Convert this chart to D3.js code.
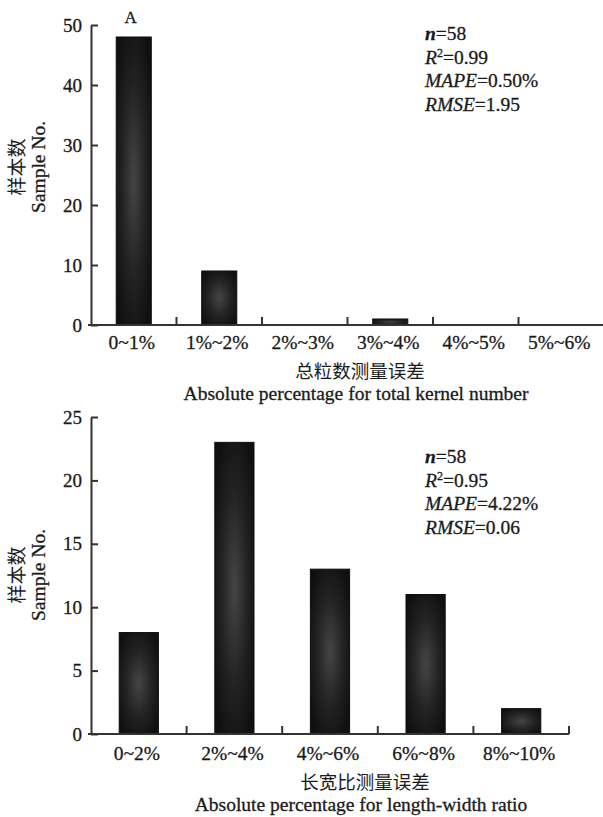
<!DOCTYPE html>
<html>
<head>
<meta charset="utf-8">
<script src="https://cdn.jsdelivr.net/npm/d3@7"></script>
<style>
  body { margin: 0; background: #fff; }
  text { font-family: "Liberation Serif", "Times New Roman", serif; fill: #1a1a1a; stroke: #1a1a1a; stroke-width: 0.3px; }
  .cjk { font-family: "Noto Sans CJK SC", sans-serif; stroke-width: 0; }
</style>
</head>
<body>
<svg id="chart" width="603" height="817"></svg>
<script>
// chart A: total kernel number
var kernelCats = ["0~1%", "1%~2%", "2%~3%", "3%~4%", "4%~5%", "5%~6%"];
var kernelCounts = [48, 9, 0, 1, 0, 0];
var kernelTicks = [0, 10, 20, 30, 40, 50];
var kernelStats = ["58", "0.99", "0.50%", "1.95"];

// chart B: length-width ratio
var ratioCats = ["0~2%", "2%~4%", "4%~6%", "6%~8%", "8%~10%"];
var ratioCounts = [8, 23, 13, 11, 2];
var ratioTicks = [0, 5, 10, 15, 20, 25];
var ratioStats = ["58", "0.95", "4.22%", "0.06"];

var svg = d3.select("#chart");

// bar fill: dark with a lighter middle
var grad = svg.append("defs").append("radialGradient")
  .attr("id", "barGrad")
  .attr("cx", "50%").attr("cy", "50%").attr("r", "60%");
grad.append("stop").attr("offset", "0%").attr("stop-color", "#454545");
grad.append("stop").attr("offset", "55%").attr("stop-color", "#232323");
grad.append("stop").attr("offset", "100%").attr("stop-color", "#101010");

function drawChart(o) {
  var g = svg.append("g");

  var x = d3.scaleBand().domain(o.cats).range([91, o.xEnd]).padding(0);
  var y = d3.scaleLinear().domain([0, o.yMax]).range([o.y0, o.yTop]);
  var bw = x.bandwidth();

  // bars
  g.selectAll("rect.bar")
    .data(o.counts)
    .enter()
    .append("rect")
    .attr("class", "bar")
    .attr("x", function (d, i) { return x(o.cats[i]) + bw * 0.295; })
    .attr("width", bw * 0.41)
    .attr("y", function (d) { return y(d); })
    .attr("height", function (d) { return y(0) - y(d); })
    .attr("fill", "url(#barGrad)")
    .attr("stroke", "#0d0d0d")
    .attr("stroke-width", 1);

  // y axis, ticks pointing inward
  var yAxis = g.append("g")
    .attr("transform", "translate(91,0)")
    .call(d3.axisLeft(y).tickValues(o.ticks).tickSizeInner(-7).tickSizeOuter(0).tickPadding(9));
  yAxis.selectAll("text").style("font-size", "19px").attr("fill", "#1a1a1a");
  yAxis.selectAll("line, path").attr("stroke", "#333").attr("stroke-width", 2);

  // x axis: labels at band centres, ticks at band boundaries
  var xAxis = g.append("g")
    .attr("transform", "translate(0," + o.y0 + ")")
    .call(d3.axisBottom(x).tickSize(0).tickPadding(o.labelPad));
  xAxis.select(".domain").attr("stroke", "#333").attr("stroke-width", 2)
    .attr("d", "M88,0H" + o.xEnd);
  xAxis.selectAll("text").style("font-size", "19.5px").attr("fill", "#1a1a1a").attr("dx", -2);

  g.selectAll("line.sep")
    .data(o.cats)
    .enter()
    .append("line")
    .attr("class", "sep")
    .attr("x1", function (d) { return x(d) + bw; })
    .attr("x2", function (d) { return x(d) + bw; })
    .attr("y1", o.y0)
    .attr("y2", o.y0 - 8)
    .attr("stroke", "#333")
    .attr("stroke-width", 2);

  // x titles
  g.append("text").attr("class", "cjk")
    .attr("x", o.titleX).attr("y", o.cnY)
    .attr("text-anchor", "middle")
    .style("font-size", "18.5px")
    .text(o.cnTitle);
  g.append("text")
    .attr("x", o.titleX - 4).attr("y", o.enY)
    .attr("text-anchor", "middle")
    .style("font-size", "19.5px")
    .text(o.enTitle);

  // y title
  var yMid = o.yMid;
  g.append("text").attr("class", "cjk")
    .attr("transform", "translate(24," + yMid + ") rotate(-90)")
    .attr("text-anchor", "middle")
    .style("font-size", "19px")
    .text("样本数");
  g.append("text")
    .attr("transform", "translate(45," + yMid + ") rotate(-90)")
    .attr("text-anchor", "middle")
    .style("font-size", "19.5px")
    .text("Sample No.");

  // statistics block
  var names = ["n", "R", "MAPE", "RMSE"];
  names.forEach(function (nm, i) {
    var t = g.append("text")
      .attr("x", 425)
      .attr("y", o.statY + i * 23.7)
      .style("font-size", "19.5px");
    t.append("tspan").style("font-style", "italic").style("font-weight", nm === "n" ? "bold" : "normal").text(nm);
    if (nm === "R") {
      t.append("tspan").attr("dy", -7).style("font-size", "12px").text("2");
      t.append("tspan").attr("dy", 7).text("=" + o.stats[i]);
    } else {
      t.append("tspan").text("=" + o.stats[i]);
    }
  });

  if (o.letter) {
    g.append("text")
      .attr("x", x(o.cats[0]) + bw / 2 - 3)
      .attr("y", 23)
      .attr("text-anchor", "middle")
      .style("font-size", "17px")
      .text(o.letter);
  }
}

drawChart({
  cats: kernelCats, counts: kernelCounts, ticks: kernelTicks, stats: kernelStats,
  yMax: 50, y0: 325, yTop: 25, xEnd: 604, labelPad: 10, yMid: 167,
  titleX: 360, cnY: 378, enY: 400, statY: 40, letter: "A",
  cnTitle: "总粒数测量误差", enTitle: "Absolute percentage for total kernel number"
});

drawChart({
  cats: ratioCats, counts: ratioCounts, ticks: ratioTicks, stats: ratioStats,
  yMax: 25, y0: 734, yTop: 417, xEnd: 569, labelPad: 12, yMid: 575,
  titleX: 365, cnY: 789, enY: 811, statY: 463, letter: null,
  cnTitle: "长宽比测量误差", enTitle: "Absolute percentage for length-width ratio"
});
</script>
</body>
</html>
